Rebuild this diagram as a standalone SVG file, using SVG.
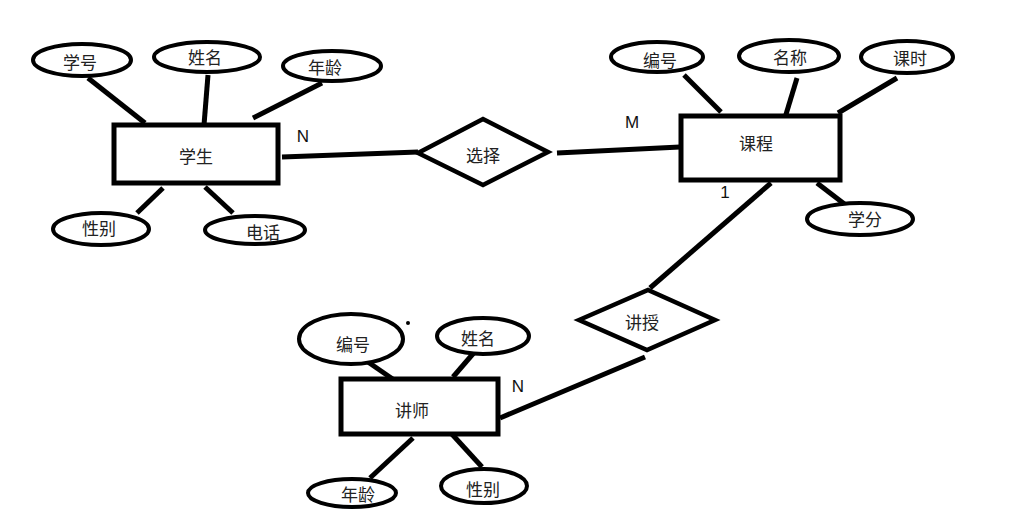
<svg xmlns="http://www.w3.org/2000/svg" width="1014" height="530" viewBox="0 0 1014 530">
<style>
.bg{fill:#fff}
.ent{fill:#fff;stroke:#000;stroke-width:5}
.att{fill:#fff;stroke:#000;stroke-width:4}
.rel{fill:#fff;stroke:#000;stroke-width:4.5;stroke-linejoin:miter}
.ln{stroke:#000;stroke-width:5;fill:none}
.t{font-family:"Noto Sans CJK SC","Microsoft YaHei",sans-serif;font-size:17px;fill:#222;text-anchor:middle;dominant-baseline:central}
.c{font-family:"Liberation Sans",Arial,sans-serif;font-size:17px;fill:#111;text-anchor:middle;dominant-baseline:central}
</style>
<rect class="bg" x="0" y="0" width="1014" height="530"/>
<g id="connectors">
<line class="ln" x1="88" y1="78" x2="145" y2="123"/>
<line class="ln" x1="208" y1="75" x2="204" y2="125"/>
<line class="ln" x1="322" y1="83" x2="253" y2="118"/>
<line class="ln" x1="163" y1="188" x2="137" y2="213"/>
<line class="ln" x1="205" y1="187" x2="233" y2="213"/>
<line class="ln" x1="282" y1="157" x2="418" y2="152"/>
<line class="ln" x1="557" y1="153" x2="680" y2="147"/>
<line class="ln" x1="684" y1="75" x2="721" y2="112"/>
<line class="ln" x1="797" y1="78" x2="784" y2="121"/>
<line class="ln" x1="897" y1="78" x2="838" y2="113"/>
<line class="ln" x1="817" y1="183" x2="847" y2="206"/>
<line class="ln" x1="771" y1="183" x2="650" y2="288"/>
<line class="ln" x1="645" y1="357" x2="500" y2="418"/>
<line class="ln" x1="368" y1="362" x2="397" y2="382"/>
<line class="ln" x1="478" y1="348" x2="453" y2="377"/>
<line class="ln" x1="413" y1="438" x2="370" y2="478"/>
<line class="ln" x1="450" y1="432" x2="482" y2="467"/>
</g>
<g id="student">
<rect class="ent" x="114" y="125" width="164" height="58"/>
<text class="t" x="196" y="155">学生</text>
</g>
<g id="s_id"><ellipse class="att" cx="82" cy="60" rx="49" ry="16"/><text class="t" x="80" y="61">学号</text></g>
<g id="s_name"><ellipse class="att" cx="207" cy="57" rx="53" ry="15"/><text class="t" x="205" y="56">姓名</text></g>
<g id="s_age"><ellipse class="att" cx="332" cy="66" rx="49" ry="15"/><text class="t" x="325" y="66">年龄</text></g>
<g id="s_sex"><ellipse class="att" cx="101" cy="229" rx="48" ry="16"/><text class="t" x="99" y="227">性别</text></g>
<g id="s_tel"><ellipse class="att" cx="255" cy="230" rx="50" ry="14"/><text class="t" x="263" y="231">电话</text></g>
<g id="select">
<polygon class="rel" points="418,153 483,119 548,152 483,185"/>
<text class="t" x="483" y="154">选择</text>
</g>
<g id="course">
<rect class="ent" x="681" y="116" width="159" height="64"/>
<text class="t" x="756" y="142">课程</text>
</g>
<g id="c_id"><ellipse class="att" cx="657" cy="57" rx="46" ry="15"/><text class="t" x="660" y="59">编号</text></g>
<g id="c_name"><ellipse class="att" cx="789" cy="56" rx="50" ry="16"/><text class="t" x="790" y="56">名称</text></g>
<g id="c_hours"><ellipse class="att" cx="907" cy="57" rx="46" ry="16"/><text class="t" x="910" y="57">课时</text></g>
<g id="c_credit"><ellipse class="att" cx="860" cy="219" rx="53" ry="16"/><text class="t" x="865" y="218">学分</text></g>
<g id="teach">
<polygon class="rel" points="579,320 648,290 715,320 647,350"/>
<text class="t" x="642" y="321">讲授</text>
</g>
<g id="teacher">
<rect class="ent" x="341" y="379" width="157" height="55"/>
<text class="t" x="412" y="409">讲师</text>
</g>
<g id="t_id"><ellipse class="att" cx="351" cy="339" rx="52" ry="25"/><text class="t" x="353" y="343">编号</text></g>
<g id="t_name"><ellipse class="att" cx="483" cy="336" rx="46" ry="18"/><text class="t" x="478" y="337">姓名</text></g>
<g id="t_age"><ellipse class="att" cx="352" cy="493" rx="44" ry="14"/><text class="t" x="358" y="493">年龄</text></g>
<g id="t_sex"><ellipse class="att" cx="484" cy="486" rx="43" ry="17"/><text class="t" x="483" y="488">性别</text></g>
<circle cx="408" cy="323" r="2" fill="#000"/>
<g id="labels">
<text class="c" x="303" y="136">N</text>
<text class="c" x="632" y="122">M</text>
<text class="c" x="725" y="192">1</text>
<text class="c" x="518" y="386">N</text>
</g>
</svg>
